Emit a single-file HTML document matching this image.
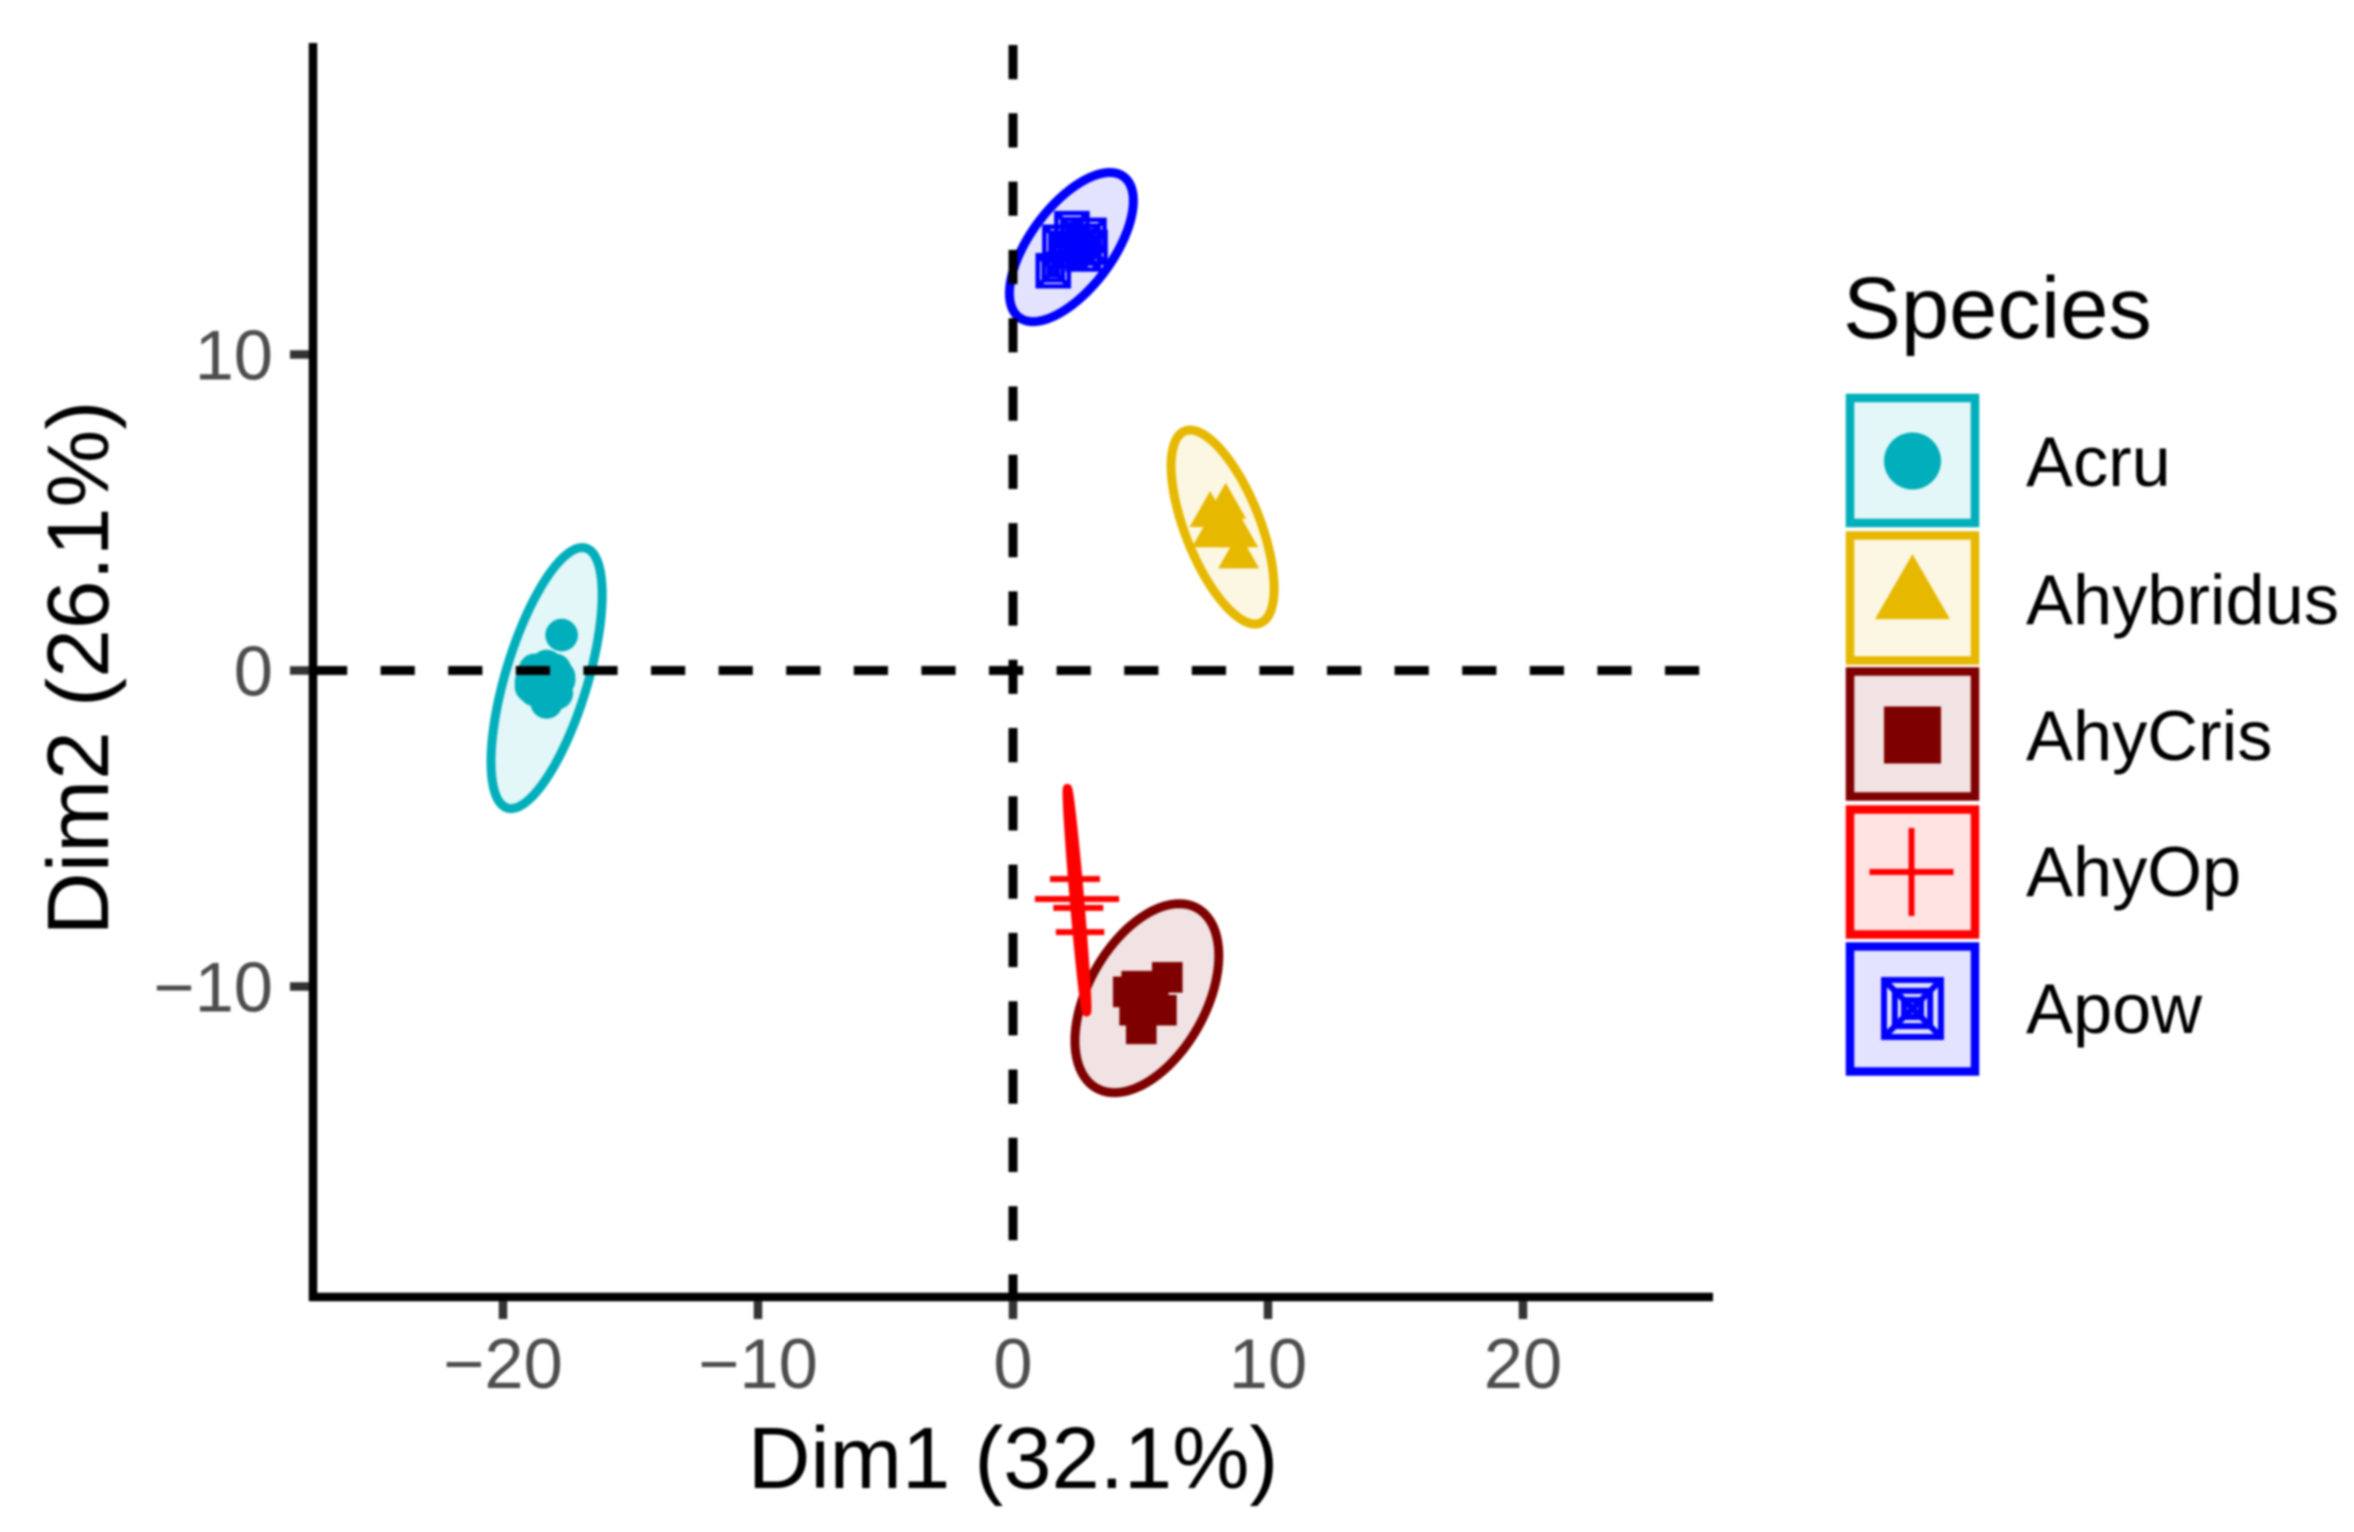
<!DOCTYPE html>
<html lang="en">
<head>
<meta charset="utf-8">
<title>PCA biplot of species</title>
<style>
html,body{margin:0;padding:0;background:#fff;width:2354px;height:1532px;overflow:hidden}
svg{display:block;filter:blur(1px)}
text{font-family:"Liberation Sans",Arial,sans-serif}
</style>
</head>
<body>
<svg id="chart" xmlns="http://www.w3.org/2000/svg" width="2354" height="1532" viewBox="0 0 2354 1532">
  <rect x="0" y="0" width="2354" height="1532" fill="#fff"/>
  <g id="ellipses"></g>
  <g id="points"></g>
  <g id="refs"></g>
  <g id="axes"></g>
  <text x="1013" y="1488" font-size="86.8" text-anchor="middle" fill="#000">Dim1 (32.1%)</text>
  <text transform="translate(108,668) rotate(-90)" font-size="87.5" text-anchor="middle" fill="#000">Dim2 (26.1%)</text>
  <g id="legend">
    <text x="1843" y="338" font-size="86.8" fill="#000">Species</text>
  </g>
</svg>
<script>
// ---- chart data (values in PCA dimension units) ----
const speciesNames = ["Acru", "Ahybridus", "AhyCris", "AhyOp", "Apow"];
const xTickValues = [-20, -10, 0, 10, 20];
const yTickValues = [-10, 0, 10];

const ellipseCenterX = [-18.29, 8.22, 5.25, 2.51, 2.29];
const ellipseCenterY = [-0.24, 4.54, -10.37, -7.27, 13.40];
const ellipseSpreadX = [2.18, 2.02, 2.82, 0.39, 2.43];
const ellipseSpreadY = [4.13, 3.07, 2.99, 3.54, 2.36];
const ellipseCorrelation = [0.64, -0.63, 0.45, -0.96, 0.62];

const acruX = [-17.70, -18.29, -18.90, -17.80, -18.29, -18.90, -18.03, -18.68, -18.29, -18.75, -17.96, -17.80, -18.75, -17.89];
const acruY = [1.12, 0.14, -0.35, -0.20, -1.01, -0.51, -0.56, -0.04, -0.35, 0.02, 0.02, -0.30, -0.62, -0.72];

const ahybridusX = [8.34, 7.73, 7.82, 8.81, 8.85, 8.51];
const ahybridusY = [5.18, 4.92, 4.28, 4.28, 3.61, 4.61];

const ahyCrisX = [6.05, 4.85, 4.52, 4.77, 5.82, 5.03, 5.50];
const ahyCrisY = [-9.71, -9.99, -10.17, -10.75, -10.75, -11.34, -10.22];

const ahyOpX = [2.43, 2.51, 2.56, 2.63];
const ahyOpY = [-6.60, -7.23, -7.51, -8.28];
const ahyOpReach = [0.98, 1.65, 0.98, 0.95];

const apowX = [1.58, 2.31, 2.98, 1.84, 2.76, 2.24, 3.02];
const apowY = [12.65, 13.98, 13.77, 13.55, 13.18, 13.28, 13.39];

// ---- axis functions ----
function xScale(v) { return 1013 + v * 25.5; }
function yScale(v) { return 670.5 - v * 31.6; }

const speciesColors = ["#00AFBB", "#E7B800", "#7F0000", "#FF0000", "#0000FF"];
const NS = "http://www.w3.org/2000/svg";

function make(tag, parent, attrs) {
  const el = document.createElementNS(NS, tag);
  for (const k in attrs) el.setAttribute(k, attrs[k]);
  parent.appendChild(el);
  return el;
}

const ellipseLayer = document.getElementById("ellipses");
const pointLayer = document.getElementById("points");
const refLayer = document.getElementById("refs");
const axisLayer = document.getElementById("axes");
const legendLayer = document.getElementById("legend");

// ---- ellipses ----
speciesNames.forEach(function (name, i) {
  const rho = ellipseCorrelation[i];
  const other = Math.sqrt(1 - rho * rho);
  const pts = [];
  for (let k = 0; k < 120; k++) {
    const t = k / 120 * 2 * Math.PI;
    const dx = ellipseSpreadX[i] * Math.cos(t);
    const dy = ellipseSpreadY[i] * (rho * Math.cos(t) + other * Math.sin(t));
    pts.push(xScale(ellipseCenterX[i] + dx).toFixed(2) + "," + yScale(ellipseCenterY[i] + dy).toFixed(2));
  }
  const el = make("polygon", ellipseLayer, {
    points: pts.join(" "),
    fill: speciesColors[i],
    "fill-opacity": 0.11,
    stroke: speciesColors[i],
    "stroke-width": 9,
    "stroke-linejoin": "round"
  });
  
  
});

// ---- marker drawing ----
function drawCircle(parent, cx, cy, r, color) {
  return make("circle", parent, { cx: cx, cy: cy, r: r, fill: color });
}
function drawTriangle(parent, cx, cy, halfBase, height, color) {
  const apex = cy - height * 2 / 3;
  const base = cy + height / 3;
  return make("polygon", parent, {
    points: cx + "," + apex + " " + (cx - halfBase) + "," + base + " " + (cx + halfBase) + "," + base,
    fill: color
  });
}
function drawSquare(parent, cx, cy, half, color) {
  return make("rect", parent, { x: cx - half, y: cy - half, width: half * 2, height: half * 2, fill: color });
}
function drawPlus(parent, cx, cy, halfW, halfH, sw, color) {
  return make("path", parent, {
    d: "M" + (cx - halfW) + " " + cy + "H" + (cx + halfW) + "M" + cx + " " + (cy - halfH) + "V" + (cy + halfH),
    fill: "none", stroke: color, "stroke-width": sw
  });
}
function drawBoxedCross(parent, cx, cy, half, sw, color) {
  const a = half, b = half * 0.62, c = half * 0.3;
  const d = "M" + (cx - a) + " " + (cy - a) + "H" + (cx + a) + "V" + (cy + a) + "H" + (cx - a) + "Z" +
    "M" + (cx - b) + " " + (cy - b) + "H" + (cx + b) + "V" + (cy + b) + "H" + (cx - b) + "Z" +
    "M" + (cx - a) + " " + (cy - a) + "L" + (cx + a) + " " + (cy + a) +
    "M" + (cx - a) + " " + (cy + a) + "L" + (cx + a) + " " + (cy - a) +
    "M" + (cx - c) + " " + (cy - c) + "H" + (cx + c) + "V" + (cy + c) + "H" + (cx - c) + "Z";
  return make("path", parent, { d: d, fill: "none", stroke: color, "stroke-width": sw });
}

// ---- points ----
acruX.forEach(function (v, i) {
  const el = drawCircle(pointLayer, xScale(v), yScale(acruY[i]), 16.3, speciesColors[0]);
  
  
});
ahybridusX.forEach(function (v, i) {
  const el = drawTriangle(pointLayer, xScale(v), yScale(ahybridusY[i]), 20.5, 36, speciesColors[1]);
  
  
});
ahyCrisX.forEach(function (v, i) {
  const el = drawSquare(pointLayer, xScale(v), yScale(ahyCrisY[i]), 15.3, speciesColors[2]);
  
  
});
ahyOpX.forEach(function (v, i) {
  const reachPx = xScale(ahyOpReach[i]) - xScale(0);
  const el = drawPlus(pointLayer, xScale(v), yScale(ahyOpY[i]), reachPx, 25, 6, speciesColors[3]);
  
  
});
apowX.forEach(function (v, i) {
  const el = drawBoxedCross(pointLayer, xScale(v), yScale(apowY[i]), 15.5, 4.6, speciesColors[4]);
  
  
});

// ---- reference lines ----
const hRef = make("line", refLayer, {
  x1: 313, x2: 1703, y1: yScale(0), y2: yScale(0),
  stroke: "#000", "stroke-width": 9, "stroke-dasharray": "34.2 33.4"
});


const vRef = make("line", refLayer, {
  x1: xScale(0), x2: xScale(0), y1: 45, y2: 1297,
  stroke: "#000", "stroke-width": 9, "stroke-dasharray": "34.2 34.1"
});



// ---- axes ----
const yAxisLine = make("line", axisLayer, { x1: 313, x2: 313, y1: 43, y2: 1301, stroke: "#000", "stroke-width": 8.5 });


const xAxisLine = make("line", axisLayer, { x1: 309, x2: 1713, y1: 1297, y2: 1297, stroke: "#000", "stroke-width": 8.5 });



function tickText(v) { return v < 0 ? "\u2212" + Math.abs(v) : String(v); }

xTickValues.forEach(function (v) {
  const tick = make("line", axisLayer, { x1: xScale(v), x2: xScale(v), y1: 1301, y2: 1319, stroke: "#333", "stroke-width": 8.5 });
  
  
  const label = make("text", axisLayer, { x: xScale(v), y: 1388, "font-size": 70.5, "text-anchor": "middle", fill: "#4d4d4d" });
  label.textContent = tickText(v);
  
  
});
yTickValues.forEach(function (v) {
  const tick = make("line", axisLayer, { x1: 290, x2: 309, y1: yScale(v), y2: yScale(v), stroke: "#333", "stroke-width": 8.5 });
  
  
  const label = make("text", axisLayer, { x: 273, y: yScale(v) + 25, "font-size": 70.5, "text-anchor": "end", fill: "#4d4d4d" });
  label.textContent = tickText(v);
  
  
});

// ---- legend ----
const legendKeyCenters = [460.5, 598, 734, 872, 1009];
const legendBaselines = [486, 624, 760, 896, 1033];
speciesNames.forEach(function (name, i) {
  const cy = legendKeyCenters[i];
  const key = make("rect", legendLayer, {
    x: 1850, y: cy - 62.5, width: 125, height: 125,
    fill: speciesColors[i], "fill-opacity": 0.11,
    stroke: speciesColors[i], "stroke-width": 8.5
  });
  
  
  const label = make("text", legendLayer, { x: 2026, y: legendBaselines[i], "font-size": 70.4, fill: "#000" });
  label.textContent = name;
  
  
});
const legendSymbols = [
  drawCircle(legendLayer, 1912.5, 461, 28.5, speciesColors[0]),
  drawTriangle(legendLayer, 1912.5, 597.5, 37.5, 65, speciesColors[1]),
  drawSquare(legendLayer, 1912.5, 735, 28.5, speciesColors[2]),
  drawPlus(legendLayer, 1911.5, 872, 42, 44, 6, speciesColors[3]),
  drawBoxedCross(legendLayer, 1912.5, 1008.5, 28.5, 6, speciesColors[4])
];
legendSymbols.forEach(function (el, i) {
  
  
});
</script>
</body>
</html>
